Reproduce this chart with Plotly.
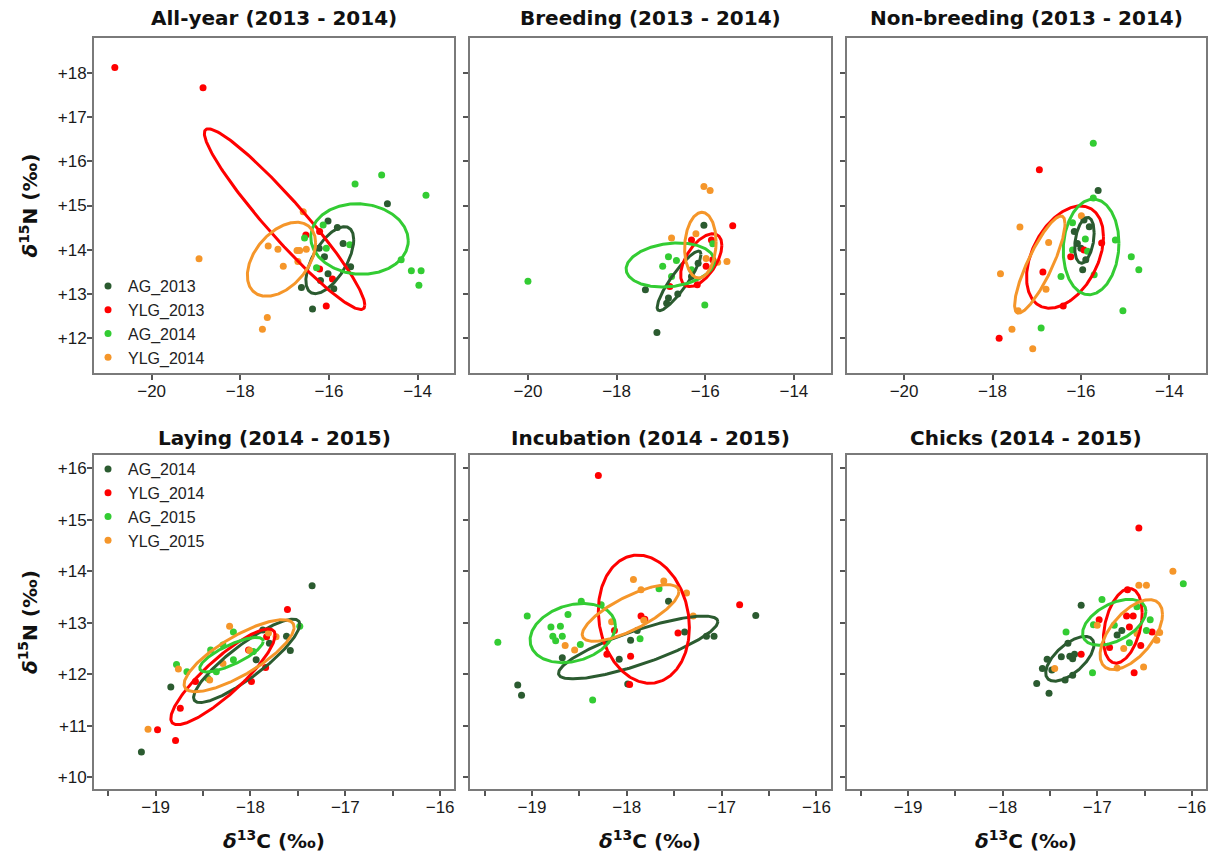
import numpy as np
import plotly.graph_objects as go

# ---------------- data (delta13C = *_c, delta15N = *_n) ----------------
TOP_GROUPS = ["AG_2013", "YLG_2013", "AG_2014", "YLG_2014"]
BOTTOM_GROUPS = ["AG_2014", "YLG_2014", "AG_2015", "YLG_2015"]
GROUP_COLORS = ["#2b5b30", "#ff0000", "#33cc33", "#f5962a"]
PANEL_TITLES = ["All-year (2013 - 2014)", "Breeding (2013 - 2014)", "Non-breeding (2013 - 2014)",
                "Laying (2014 - 2015)", "Incubation (2014 - 2015)", "Chicks (2014 - 2015)"]

# All-year
ay_ag13_c = [-16.02, -15.81, -16.10, -15.51, -16.02, -16.19, -16.62, -15.89, -16.37, -14.68, -16.22, -15.68]
ay_ag13_n = [14.65, 14.50, 13.84, 13.61, 13.45, 13.30, 13.14, 13.11, 12.65, 15.04, 14.03, 14.14]
ay_ylg13_c = [-20.83, -18.84, -16.52, -16.21, -16.21, -16.06, -15.92]
ay_ylg13_n = [18.13, 17.67, 14.33, 14.41, 13.56, 12.72, 13.33]
ay_ag14_c = [-15.41, -14.81, -13.81, -14.37, -14.14, -13.92, -13.97, -16.55, -16.13, -16.06, -16.28, -15.53]
ay_ag14_n = [15.49, 15.69, 15.23, 13.77, 13.52, 13.52, 13.19, 14.26, 14.56, 14.03, 13.59, 14.11]
ay_ylg14_c = [-18.93, -17.37, -17.15, -17.03, -16.72, -16.66, -16.51, -16.70, -16.58, -17.39, -17.50]
ay_ylg14_n = [13.79, 14.08, 14.01, 13.62, 13.98, 13.98, 14.01, 13.73, 14.86, 12.46, 12.19]

# Breeding
br_ag13_c = [-16.03, -17.35, -17.09, -16.83, -16.62, -16.87, -16.31, -16.16]
br_ag13_n = [14.55, 13.09, 12.12, 12.90, 12.99, 12.78, 13.39, 13.69]
br_ylg13_c = [-15.38, -16.31, -15.86, -16.80, -16.18, -15.98, -15.83]
br_ylg13_n = [14.54, 14.22, 14.22, 13.16, 13.20, 13.62, 13.77]
br_ag14_c = [-20.0, -16.83, -16.96, -16.65, -16.01, -15.83, -16.76, -16.31]
br_ag14_n = [13.28, 13.84, 13.62, 13.75, 12.74, 14.13, 13.39, 13.54]
br_ylg14_c = [-16.03, -15.89, -16.76, -16.21, -15.98, -15.51, -15.72]
br_ylg14_n = [15.43, 15.34, 14.26, 14.36, 13.80, 13.73, 13.71]

# Non-breeding
nb_ag13_c = [-15.61, -16.15, -15.81, -16.00, -15.89, -15.96, -16.08, -15.93]
nb_ag13_n = [15.34, 14.41, 14.52, 14.03, 13.77, 13.54, 14.14, 14.67]
nb_ylg13_c = [-16.94, -16.86, -16.23, -16.40, -17.85, -15.53, -15.93]
nb_ylg13_n = [15.81, 13.49, 13.84, 12.72, 11.99, 14.15, 13.99]
nb_ag14_c = [-15.72, -15.72, -16.19, -15.90, -15.22, -14.86, -14.69, -15.05, -16.90, -16.45, -15.70, -16.19, -15.85]
nb_ag14_n = [16.41, 15.17, 14.61, 14.24, 14.22, 13.84, 13.54, 12.61, 12.22, 13.39, 13.43, 13.99, 13.96]
nb_ylg14_c = [-17.38, -16.73, -17.82, -16.79, -17.42, -17.56, -17.09, -15.99]
nb_ylg14_n = [14.51, 14.16, 13.45, 13.10, 12.61, 12.19, 11.75, 14.77]

# Laying
la_ag14_c = [-17.35, -19.15, -18.84, -17.58, -17.62, -17.87, -17.94, -17.80]
la_ag14_n = [13.72, 10.49, 11.75, 12.46, 12.74, 12.86, 12.28, 12.60]
la_ylg14_c = [-17.61, -18.98, -18.79, -18.74, -18.58, -17.99, -17.84, -18.02, -17.83]
la_ylg14_n = [13.26, 10.92, 10.71, 11.34, 11.86, 11.86, 12.13, 12.47, 12.73]
la_ag15_c = [-18.78, -18.67, -18.42, -18.18, -18.29, -18.36, -18.18, -17.48, -17.97, -18.45]
la_ag15_n = [12.19, 12.05, 12.47, 12.82, 12.57, 12.05, 12.28, 12.93, 12.44, 11.92]
la_ylg15_c = [-18.22, -19.08, -18.76, -17.73, -17.81, -18.01, -18.43, -18.29]
la_ylg15_n = [12.93, 10.93, 12.10, 12.73, 12.80, 12.46, 11.89, 12.21]

# Incubation
in_ag14_c = [-16.64, -17.56, -17.39, -17.96, -17.89, -18.08, -17.99, -18.68, -19.15, -19.11, -17.16, -17.08]
in_ag14_n = [13.14, 13.42, 12.82, 12.66, 12.85, 12.29, 11.81, 12.32, 11.79, 11.59, 12.74, 12.74]
in_ylg14_c = [-18.30, -16.81, -17.85, -17.81, -17.96, -17.97, -17.46, -18.21, -18.13]
in_ylg14_n = [15.86, 13.35, 13.13, 13.07, 12.35, 11.80, 12.80, 12.39, 12.85]
in_ag15_c = [-19.36, -19.05, -18.62, -18.48, -18.27, -18.80, -18.70, -18.78, -18.75, -18.68, -18.49, -18.36, -17.66, -17.86]
in_ag15_n = [12.62, 13.13, 13.16, 13.42, 13.35, 12.92, 12.93, 12.74, 12.65, 12.74, 12.58, 11.50, 13.66, 12.69]
in_ylg15_c = [-17.93, -17.61, -17.85, -17.37, -17.30, -17.82, -18.16, -18.65, -18.55]
in_ylg15_n = [13.84, 13.81, 13.64, 13.58, 13.13, 13.05, 13.02, 12.56, 12.47]

# Chicks
ch_ag14_c = [-17.17, -17.64, -17.51, -17.58, -17.53, -17.38, -17.29, -17.26, -17.24, -17.34, -17.26, -17.48, -16.74, -16.79, -17.31]
ch_ag14_n = [13.34, 11.82, 11.63, 12.11, 12.29, 12.34, 12.35, 12.30, 12.39, 11.89, 11.98, 12.08, 12.85, 12.76, 12.60]
ch_ylg14_c = [-16.56, -16.61, -17.17, -16.69, -16.62, -16.66, -16.87, -16.54, -16.42, -16.68, -16.98]
ch_ylg14_n = [14.84, 12.03, 12.39, 13.13, 13.13, 12.92, 12.52, 12.56, 12.82, 13.64, 13.06]
ch_ag15_c = [-16.09, -16.95, -17.33, -17.05, -16.58, -16.44, -16.48, -16.66, -17.04, -16.82]
ch_ag15_n = [13.76, 13.45, 12.82, 12.03, 13.31, 13.06, 12.85, 12.61, 12.96, 12.95]
ch_ylg15_c = [-16.20, -16.56, -16.48, -16.34, -16.37, -16.51, -16.79, -16.72, -17.45, -17.00, -16.58]
ch_ylg15_n = [14.00, 13.73, 13.73, 12.81, 12.66, 12.14, 12.12, 12.50, 12.11, 12.95, 12.79]

# Standard ellipses (centre, SDs, correlation), group order as in legend
ay_ell_cx = [-15.98, -17.00, -15.31, -17.07]
ay_ell_cy = [13.76, 14.69, 14.24, 13.78]
ay_ell_sx = [0.54, 1.81, 1.10, 0.77]
ay_ell_sy = [0.76, 2.05, 0.80, 0.84]
ay_ell_r = [0.61, -0.95, -0.05, 0.44]

br_ell_cx = [-16.59, -16.09, -16.79, -16.11]
br_ell_cy = [13.29, 13.76, 13.65, 14.10]
br_ell_sx = [0.495, 0.465, 0.995, 0.355]
br_ell_sy = [0.675, 0.60, 0.50, 0.745]
br_ell_r = [0.89, 0.56, 0.18, 0.10]

nb_ell_cx = [-15.92, -16.36, -15.77, -16.93]
nb_ell_cy = [14.21, 13.83, 14.06, 13.66]
nb_ell_sx = [0.22, 0.87, 0.63, 0.57]
nb_ell_sy = [0.52, 1.16, 1.085, 1.10]
nb_ell_r = [0.32, 0.40, 0.08, 0.84]

la_ell_cx = [-18.04, -18.29, -18.20, -18.12]
la_ell_cy = [12.26, 11.95, 12.38, 12.36]
la_ell_sx = [0.56, 0.55, 0.335, 0.58]
la_ell_sy = [0.81, 0.93, 0.335, 0.70]
la_ell_r = [0.875, 0.87, 0.78, 0.79]

in_ell_cx = [-17.88, -17.82, -18.57, -17.96]
in_ell_cy = [12.52, 13.07, 12.80, 13.19]
in_ell_sx = [0.84, 0.48, 0.45, 0.51]
in_ell_sy = [0.61, 1.245, 0.575, 0.55]
in_ell_r = [0.82, -0.13, 0.24, 0.76]

ch_ell_cx = [-17.29, -16.73, -16.82, -16.64]
ch_ell_cy = [12.30, 12.94, 13.01, 12.77]
ch_ell_sx = [0.255, 0.205, 0.335, 0.33]
ch_ell_sy = [0.435, 0.725, 0.445, 0.68]
ch_ell_r = [0.63, 0.35, 0.48, 0.58]

# tick values / labels
top_x_ticks = [-20, -18, -16, -14]
top_x_labels = ["\u221220", "\u221218", "\u221216", "\u221214"]
top_y_ticks = [12, 13, 14, 15, 16, 17, 18]
top_y_labels = ["+12", "+13", "+14", "+15", "+16", "+17", "+18"]
bot_x_ticks = [-19, -18, -17, -16]
bot_x_labels = ["\u221219", "\u221218", "\u221217", "\u221216"]
bot_x_minor_step = 0.5
bot_y_ticks = [10, 11, 12, 13, 14, 15, 16]
bot_y_labels = ["+10", "+11", "+12", "+13", "+14", "+15", "+16"]

top_x_range = [-21.3, -13.17]
top_y_range = [11.2, 18.8]
bot_x_range = [-19.65, -15.85]
bot_y_range = [9.77, 16.26]

# ---------------- figure ----------------
panels = [
    ([(ay_ag13_c, ay_ag13_n), (ay_ylg13_c, ay_ylg13_n), (ay_ag14_c, ay_ag14_n), (ay_ylg14_c, ay_ylg14_n)],
     (ay_ell_cx, ay_ell_cy, ay_ell_sx, ay_ell_sy, ay_ell_r), TOP_GROUPS),
    ([(br_ag13_c, br_ag13_n), (br_ylg13_c, br_ylg13_n), (br_ag14_c, br_ag14_n), (br_ylg14_c, br_ylg14_n)],
     (br_ell_cx, br_ell_cy, br_ell_sx, br_ell_sy, br_ell_r), TOP_GROUPS),
    ([(nb_ag13_c, nb_ag13_n), (nb_ylg13_c, nb_ylg13_n), (nb_ag14_c, nb_ag14_n), (nb_ylg14_c, nb_ylg14_n)],
     (nb_ell_cx, nb_ell_cy, nb_ell_sx, nb_ell_sy, nb_ell_r), TOP_GROUPS),
    ([(la_ag14_c, la_ag14_n), (la_ylg14_c, la_ylg14_n), (la_ag15_c, la_ag15_n), (la_ylg15_c, la_ylg15_n)],
     (la_ell_cx, la_ell_cy, la_ell_sx, la_ell_sy, la_ell_r), BOTTOM_GROUPS),
    ([(in_ag14_c, in_ag14_n), (in_ylg14_c, in_ylg14_n), (in_ag15_c, in_ag15_n), (in_ylg15_c, in_ylg15_n)],
     (in_ell_cx, in_ell_cy, in_ell_sx, in_ell_sy, in_ell_r), BOTTOM_GROUPS),
    ([(ch_ag14_c, ch_ag14_n), (ch_ylg14_c, ch_ylg14_n), (ch_ag15_c, ch_ag15_n), (ch_ylg15_c, ch_ylg15_n)],
     (ch_ell_cx, ch_ell_cy, ch_ell_sx, ch_ell_sy, ch_ell_r), BOTTOM_GROUPS),
]

fig = go.Figure()
t = np.linspace(0, 2 * np.pi, 240)
for i, (pts, ell, groups) in enumerate(panels):
    xa = "x" if i == 0 else f"x{i+1}"
    ya = "y" if i == 0 else f"y{i+1}"
    for g in range(4):
        fig.add_trace(go.Scatter(
            x=pts[g][0], y=pts[g][1], mode="markers", name=groups[g],
            marker=dict(color=GROUP_COLORS[g], size=7),
            showlegend=(i in (0, 3)), legend=("legend" if i < 3 else "legend2"),
            xaxis=xa, yaxis=ya, hoverinfo="x+y+name"))
    cxs, cys, sxs, sys_, rs = ell
    for g in range(4):
        cx, cy, sx, sy, r = cxs[g], cys[g], sxs[g], sys_[g], rs[g]
        ex = cx + sx * np.cos(t)
        ey = cy + sy * (r * np.cos(t) + np.sqrt(1 - r * r) * np.sin(t))
        fig.add_trace(go.Scatter(
            x=ex, y=ey, mode="lines", line=dict(color=GROUP_COLORS[g], width=3),
            showlegend=False, xaxis=xa, yaxis=ya, hoverinfo="skip"))

W, H = 1208, 859
ML, MR, MT, MB = 94, 0, 38, 70
PW, PH = W - ML - MR, H - MT - MB


def px_x(p):
    return (p - ML) / PW


def px_y(p):
    return (H - MB - p) / PH


xdoms = [[px_x(94), px_x(455)], [px_x(471), px_x(832)], [px_x(848), 1.0]]
ydom_top = [px_y(373), 1.0]
ydom_bot = [0.0, px_y(455)]

TICKFONT = dict(family="Liberation Sans, Arial, sans-serif", size=17, color="#1a1a1a")
common = dict(showline=True, mirror=True, linecolor="#7a7a7a", linewidth=2,
              ticks="outside", ticklen=5, tickwidth=1.5, tickcolor="#555555",
              showgrid=False, zeroline=False, tickfont=TICKFONT, fixedrange=True)

layout_axes = {}
for i in range(6):
    top = i < 3
    col = i % 3
    xk = "xaxis" if i == 0 else f"xaxis{i+1}"
    yk = "yaxis" if i == 0 else f"yaxis{i+1}"
    ya = "y" if i == 0 else f"y{i+1}"
    xa = "x" if i == 0 else f"x{i+1}"
    xdict = dict(common, domain=xdoms[col], anchor=ya,
                 range=top_x_range if top else bot_x_range,
                 tickmode="array",
                 tickvals=top_x_ticks if top else bot_x_ticks,
                 ticktext=top_x_labels if top else bot_x_labels,
                 ticklabelstandoff=-3)
    if not top:
        xdict["minor"] = dict(dtick=bot_x_minor_step, tick0=0, ticks="outside", ticklen=5,
                              tickwidth=1.5, tickcolor="#555555", showgrid=False)
    layout_axes[xk] = xdict
    layout_axes[yk] = dict(common, domain=ydom_top if top else ydom_bot, anchor=xa,
                           range=top_y_range if top else bot_y_range,
                           tickmode="array",
                           tickvals=top_y_ticks if top else bot_y_ticks,
                           ticktext=top_y_labels if top else bot_y_labels,
                           showticklabels=(col == 0), ticklabelstandoff=-3)

TITLEFONT = dict(family="DejaVu Sans, Liberation Sans, sans-serif", size=20, color="#111111")
annotations = []
for i, title in enumerate(PANEL_TITLES):
    col = i % 3
    xc = (xdoms[col][0] + xdoms[col][1]) / 2 if col < 2 else px_x((848 + 1208) / 2)
    annotations.append(dict(text=f"<b>{title}</b>", xref="paper", yref="paper",
                            x=xc, y=px_y(18) if i < 3 else px_y(438),
                            xanchor="center", yanchor="middle", showarrow=False,
                            font=TITLEFONT))
for yc in (px_y((38 + 373) / 2), px_y((455 + 789) / 2)):
    annotations.append(dict(text="<b><i>\u03b4</i><sup>15</sup>N (\u2030)</b>", xref="paper", yref="paper",
                            x=px_x(28), y=yc, xanchor="center", yanchor="middle",
                            textangle=-90, showarrow=False, font=TITLEFONT))
for col in range(3):
    xc = (xdoms[col][0] + xdoms[col][1]) / 2 if col < 2 else px_x((848 + 1208) / 2)
    annotations.append(dict(text="<b><i>\u03b4</i><sup>13</sup>C (\u2030)</b>", xref="paper", yref="paper",
                            x=xc, y=px_y(840), xanchor="center", yanchor="middle",
                            showarrow=False, font=TITLEFONT))

LEGFONT = dict(family="Liberation Sans, Arial, sans-serif", size=16, color="#222222")
fig.update_layout(
    width=W, height=H,
    margin=dict(l=ML, r=MR, t=MT, b=MB),
    plot_bgcolor="white", paper_bgcolor="white",
    annotations=annotations,
    legend=dict(x=px_x(88), xanchor="left", y=px_y(269), yanchor="top", itemwidth=30,
                font=LEGFONT, bgcolor="rgba(0,0,0,0)", borderwidth=0, tracegroupgap=0),
    legend2=dict(x=px_x(88), xanchor="left", y=px_y(452), yanchor="top", itemwidth=30,
                 font=LEGFONT, bgcolor="rgba(0,0,0,0)", borderwidth=0, tracegroupgap=0),
    **layout_axes,
)

fig.write_html("out.html")
